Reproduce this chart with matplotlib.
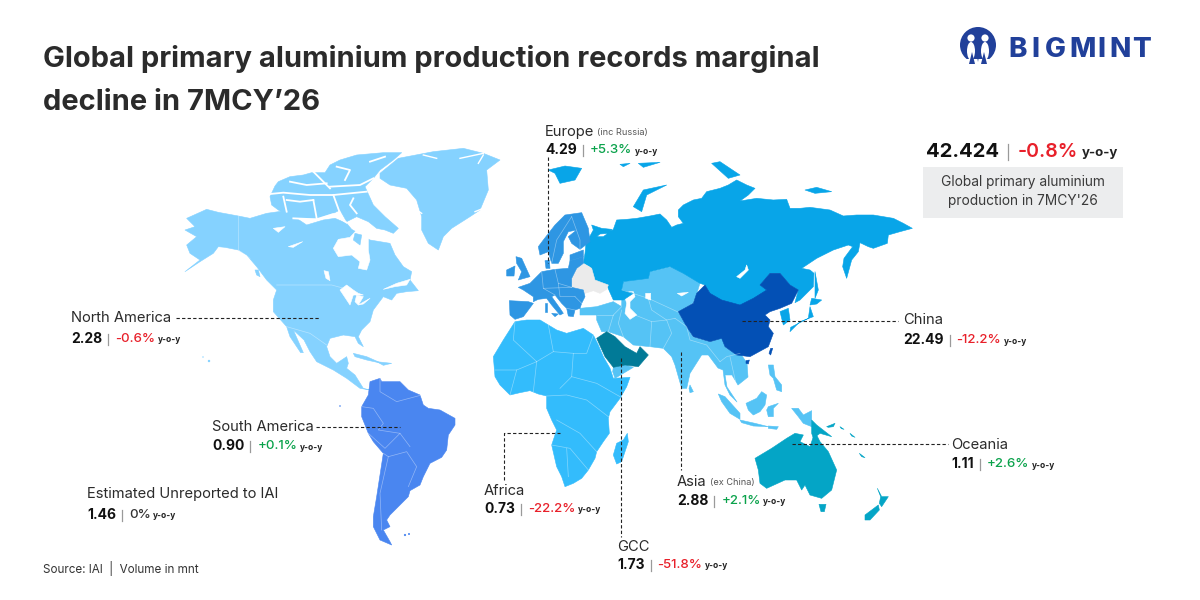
import matplotlib
matplotlib.use("Agg")
import matplotlib.pyplot as plt
from matplotlib.patches import Polygon, Circle, Rectangle, Ellipse

plt.rcParams['font.family'] = ['Inter', 'DejaVu Sans']

# values printed on the chart
regions = ["North America", "South America", "Estimated Unreported to IAI", "Africa", "GCC",
           "Asia", "Oceania", "China", "Europe"]
region_notes = ["", "", "", "", "", "(ex China)", "", "", "(inc Russia)"]
volumes = ["2.28", "0.90", "1.46", "0.73", "1.73", "2.88", "1.11", "22.49", "4.29"]
changes = ["-0.6%", "+0.1%", "0%", "-22.2%", "-51.8%", "+2.1%", "+2.6%", "-12.2%", "+5.3%"]
label_x = [71, 212, 87, 484, 617, 677, 951, 903, 545]
label_y = [318, 427, 494, 491, 547, 482, 445, 320, 132]
stat_y = [339, 446, 515, 509, 565, 501, 464, 340, 150]
world_total = "42.424"
world_change = "-0.8%"

NA_COL = '#85d2ff'
SA_COL = '#4a86f0'
AF_COL = '#33bcfc'
AS_COL = '#55c3f5'
CN_COL = '#0350b5'
RU_COL = '#08a5e8'
EU_COL = '#2e96e3'
GCC_COL = '#017a97'
OC_COL = '#04a5c6'
GREY = '#ebebeb'

CROP_NA = (150, 130)
CROP_ARC = (270, 150)
CROP_EA = (480, 130)
CROP_AF = (340, 320)
CROP_SE = (640, 320)
CROP_EU = (500, 200)
CROP_ME = (580, 290)

north_america = [
    (110,265),(170,238),(205,247),(265,258),(300,265),(350,250),(400,243),(440,265),(470,285),(520,270),
    (555,265),(590,280),(605,298),(660,330),(720,340),(735,375),(760,410),(785,425),(780,450),(805,482),
    (770,485),(740,490),(725,510),(700,500),(670,540),(660,575),(635,600),(625,620),(640,650),(625,640),(615,620),
    (580,615),(540,625),(530,650),(540,680),(560,700),(590,680),(595,700),(590,715),(615,735),(640,775),
    (660,780),(630,775),(590,745),(550,720),(500,695),(480,665),(462,630),(430,600),(460,668),(452,668),(420,620),
    (410,590),(370,545),(370,510),(380,480),(350,450),(320,410),(290,375),(265,360),(225,352),(205,350),(190,370),
    (150,395),(105,425),(150,390),(120,370),(110,345),(140,320),(105,300),(135,290)]
greenland = [
    (690,130),(745,85),(850,65),(940,55),(1000,70),(1050,90),(1010,120),(1015,180),(990,240),(960,260),
    (905,295),(880,320),(865,360),(835,340),(815,300),(815,260),(800,210),(770,175),(720,165),(690,145)]
greenland_fjords = [[(930,85),(1000,70)], [(985,100),(1000,75)], [(975,245),(1000,235)], [(800,240),(815,250)],
                    [(820,75),(860,85)]]
na_water = [
    [(570,480),(590,465),(610,480),(625,490),(640,495),(610,495),(600,525),(590,510)],
    [(620,495),(640,500),(625,525),(615,515)],
    [(625,525),(660,505),(640,522)],
    [(522,422),(535,425),(540,452),(528,445)],
    [(370,295),(405,290),(385,307)],
    [(415,350),(458,335),(430,352)],
    [(700,478),(740,460),(780,448),(770,465),(735,470)]]
hudson_bay = [
    (190,295),(205,268),(240,262),(262,238),(290,215),(320,235),(345,245),(385,240),(375,255),(345,262),(320,262),
    (295,265),(295,300),(300,330),(290,360),(265,355),(270,335),(245,315),(205,320)]
arctic_block = [
    (0,140),(15,108),(25,95),(60,80),(100,75),(125,68),(165,68),(180,45),(210,30),(260,15),(340,8),(395,8),(370,30),
    (330,60),(310,85),(285,110),(310,165),(345,200),(385,235),(370,250),(345,240),(320,235),(295,215),(260,200),(230,215),
    (210,180),(190,190),(140,205),(70,205),(25,180),(5,165)]
arctic_channels = [
    [(0,132),(40,128),(120,135),(190,135),(290,125)],
    [(40,140),(50,185)], [(130,150),(140,205)], [(190,135),(210,190)],
    [(180,110),(270,105),(310,85)], [(130,65),(170,105),(180,115)], [(60,95),(110,105),(170,100)],
    [(200,50),(240,60),(225,90)], [(250,145),(240,165),(260,190)], [(70,205),(140,208),(190,192),(230,218)],
    [(50,150),(90,155),(130,150)], [(300,35),(345,20)]]
southampton = [(255,250),(275,255),(270,285),(250,270)]
caribbean = [
    [(610,670),(650,680),(695,700),(650,690),(615,680)],
    [(680,695),(725,700),(700,706)],
    [(315,420),(325,420),(330,440),(320,435)]]

south_america = [
    (90,185),(120,175),(125,185),(180,185),(205,210),(240,225),(250,255),(265,265),(300,270),(345,295),(345,315),
    (325,345),(320,390),(305,412),(270,430),(250,470),(240,495),(210,512),(205,530),(170,565),(150,585),(140,600),
    (150,620),(130,630),(150,665),(155,675),(120,660),(100,620),(100,590),(110,530),(130,400),(100,365),(85,340),
    (65,290),(65,260),(85,225)]
africa = [
    (525,5),(560,0),(600,0),(625,15),(650,30),(680,40),(730,25),(760,45),(775,75),(790,110),(810,145),(820,175),
    (870,172),(860,200),(840,235),(810,275),(805,295),(808,340),(790,365),(770,395),(765,415),(745,450),(725,475),
    (700,490),(675,500),(665,470),(650,440),(635,375),(650,330),(635,300),(620,265),(620,228),(595,222),(570,212),
    (540,218),(510,225),(480,195),(465,170),(460,110),(490,60)]
madagascar = [(862,340),(865,365),(845,425),(830,432),(820,405),(830,370),(850,360)]
gcc = [(50,145),(80,125),(105,140),(135,170),(170,190),(180,170),(205,195),(175,230),(135,225),(100,232),(75,200)]
yemen = [(100,232),(135,225),(160,232),(105,265),(98,245)]

russia = [
    (315,370),(318,340),(340,300),(335,285),(365,295),(395,298),(388,310),(360,312),(350,320),(370,320),(400,298),(410,270),
    (440,268),(470,265),(510,258),(540,252),(560,270),(575,292),(590,285),(610,280),(595,260),(595,240),(610,225),
    (640,210),(665,205),(680,185),(720,175),(745,165),(770,150),(800,165),(825,175),(805,195),(780,213),(830,205),
    (880,210),(920,208),(930,235),(960,235),(990,232),(1050,240),(1090,258),(1130,255),(1180,255),(1240,265),(1270,280),
    (1297,295),(1260,305),(1225,315),(1222,340),(1180,355),(1165,350),(1140,338),(1135,365),(1115,390),(1100,445),
    (1088,410),(1092,385),(1118,350),(1105,345),(1060,360),(1010,385),(965,415),(990,420),(1002,430),(1000,470),
    (960,510),(945,518),(955,480),(930,465),(900,430),(870,430),(840,465),(860,480),(820,505),(780,525),(725,510),
    (690,490),(675,465),(660,460),(610,430),(570,410),(510,425),(505,445),(430,455),(425,480),(460,490),(430,510),
    (400,510),(380,465),(340,455),(330,410),(310,400)]
mongolia = [(680,465),(740,440),(790,450),(820,460),(860,480),(820,505),(780,525),(725,510),(690,490)]
china = [
    (675,465),(690,490),(725,510),(780,525),(820,505),(860,480),(840,465),(870,430),(900,430),(930,465),(955,480),
    (935,520),(900,535),(870,545),(855,555),(870,570),(865,590),(880,610),(865,650),(810,680),(770,675),(735,650),
    (725,625),(690,635),(640,620),(620,590),(595,545),(640,520),(650,490)]
russia_islands = [
    [(205,120),(255,108),(305,115),(285,150),(240,160),(225,130)],
    [(420,103),(450,100),(430,110)],
    [(475,100),(540,97),(490,112)],
    [(460,230),(490,180),(560,165),(500,195),(485,245)],
    [(695,100),(720,95),(780,135),(745,145)],
    [(975,180),(1010,172),(1055,185),(1005,190)],
    [(1005,425),(1015,480),(1005,505),(1005,470)],
    [(995,505),(1025,510),(1010,522),(990,525)],
    [(990,530),(1000,560),(960,575),(930,605),(932,592),(985,565)],
    [(900,545),(925,535),(930,570),(910,585)]]
baikal = [(800,405),(805,420),(780,445),(770,440),(795,420)]
ukraine = [
    (250,190),(275,205),(285,240),(325,255),(320,268),(300,280),(280,272),(255,280),(250,270),(215,262),(215,235),(230,205)]
europe = [
    [(55,262),(90,250),(105,235),(125,215),(165,208),(205,205),(210,182),(225,178),(250,170),(250,190),(230,205),(215,235),
     (215,262),(250,270),(255,290),(245,310),(240,325),(225,330),(220,350),(205,348),(200,325),(185,310),(165,285),(155,290),
     (180,325),(190,340),(180,345),(155,315),(140,295),(115,298),(100,305),(100,290),(70,270)],
    [(28,302),(85,305),(100,310),(85,330),(70,350),(45,358),(30,345)],
    [(115,140),(130,120),(165,75),(195,45),(245,38),(265,85),(270,125),(240,148),(215,130),(205,110),(230,90),(205,95),
     (190,125),(190,160),(175,190),(155,190),(145,155),(120,165)],
    [(135,182),(148,180),(150,205),(138,205)],
    [(210,182),(210,165),(250,150),(250,170),(225,178)],
    [(48,170),(65,175),(90,230),(55,240),(65,215),(50,190)],
    [(20,210),(45,198),(42,228),(20,228)],
    [(135,310),(142,310),(142,335),(135,335)],
    [(155,340),(175,342),(165,350)]]
asia = [
    (0,55),(50,50),(100,35),(125,50),(126,0),(129,-24),(204,-36),(210,-54),(270,-69),(309,-51),(360,-21),(351,9),(339,39),
    (294,66),(321,111),(339,141),(390,156),(426,144),(435,171),(471,195),(480,189),(501,219),(504,261),(474,285),(456,255),
    (435,255),(441,291),(471,336),(450,315),(435,285),(429,240),(414,234),(385,195),(365,195),(330,250),(320,295),(305,295),
    (285,225),(275,200),(250,175),(210,170),(160,165),(130,140),(85,125),(65,125),(50,90),(50,75),(0,75)]
asia_water = [
    [(130,5),(160,5),(165,20),(150,35),(150,55),(170,75),(150,88),(135,70),(140,40)],
    [(197,10),(212,10),(212,30),(197,25)],
    [(292,10),(325,7),(305,18)]]
se_asia_islands = [
    [(235,222),(255,230),(300,280),(300,298),(270,280),(245,245)],
    [(300,300),(345,310),(385,320),(340,318),(305,308)],
    [(385,318),(415,320),(410,328),(385,325)],
    [(318,250),(350,235),(365,215),(380,225),(375,255),(360,275),(340,285),(325,270)],
    [(385,260),(415,250),(400,265),(400,290),(385,290),(380,270)],
    [(385,135),(400,135),(405,170),(425,195),(425,215),(410,210),(400,175),(390,165)],
    [(455,265),(475,265),(490,285),(515,272),(515,320),(490,310),(475,290)],
    [(150,195),(160,215),(150,218),(147,205)]]
china_islands = [[(392,85),(398,85),(392,105),(387,100)], [(318,122),(328,120),(325,132),(318,130)]]
oceania = [
    [(345,415),(395,385),(410,375),(440,355),(465,340),(490,345),(480,365),(510,380),(525,335),(540,365),(565,395),
     (590,450),(575,510),(545,535),(510,525),(495,495),(485,510),(470,480),(435,480),(380,505),(360,490),(355,450)],
    [(537,553),(558,553),(553,575),(543,575)],
    [(712,505),(725,530),(745,530),(725,560),(718,550),(722,530)],
    [(715,555),(718,570),(690,600),(675,600),(675,585)],
    [(515,300),(530,315),(575,350),(540,340),(520,355),(515,340)],
    [(560,320),(585,310),(580,320),(565,322)],
    [(600,320),(612,328),(604,326)],
    [(630,340),(645,352),(635,348)],
    [(658,400),(675,413),(665,410)]]
small_dots = [(209, 361, 1.2, NA_COL), (203, 357, 0.7, NA_COL), (340, 406, 0.8, SA_COL), (405, 535, 1.1, SA_COL),
              (409, 534, 1.0, SA_COL)]

# a few of the country borders, thin lines on the land
borders_af = [
    [(525,5),(520,60),(590,125),(640,95),(625,15)], [(640,95),(700,100),(740,100),(760,45)],
    [(465,150),(530,150),(590,125)], [(530,150),(510,225)], [(590,125),(580,215)],
    [(700,100),(695,170),(660,205)], [(695,170),(770,190),(840,230)], [(620,228),(680,225),(740,240),(805,290)],
    [(650,300),(720,340),(770,395)], [(635,375),(690,385),(745,450)], [(680,385),(685,470)]]
borders_sa = [
    [(120,175),(120,215),(170,245),(245,225)], [(65,260),(100,265),(130,310),(115,330),(180,340),(210,380)],
    [(85,340),(135,385),(180,340)], [(130,400),(145,410),(200,395),(230,440),(205,500)],
    [(145,410),(120,520),(125,630)]]
borders_na = [[(265,258),(265,360),(300,385)], [(380,465),(545,465),(600,480)], [(410,590),(480,610),(530,645)]]
borders_eu = [
    [(125,215),(130,265),(165,285)], [(165,208),(175,250),(215,262)], [(130,265),(215,262)], [(175,250),(180,290),(225,290)],
    [(215,50),(170,120),(155,190)], [(215,50),(240,120),(240,148)], [(225,290),(245,310)], [(200,325),(225,330)]]
borders_me = [
    [(125,50),(100,75),(85,125)], [(50,75),(100,75)], [(125,60),(115,100),(130,140)], [(165,75),(215,95),(210,170)],
    [(205,25),(215,60),(260,90),(285,85)], [(215,95),(260,90),(275,130),(250,175)], [(285,85),(320,110),(330,150),(380,165),(420,215)],
    [(420,215),(440,200),(480,190)], [(450,200),(470,290)], [(126,0),(205,25),(294,66)]]
border_crops = [(borders_af, CROP_AF), (borders_sa, CROP_AF), (borders_na, CROP_NA), (borders_eu, CROP_EU), (borders_me, CROP_ME)]


def from_crop(points, crop):
    return [(crop[0] + px / 3, crop[1] + py / 3) for px, py in points]


def land(ax, shape, crop, color):
    ax.add_patch(Polygon(from_crop(shape, crop), closed=True, facecolor=color, edgecolor=color,
                         linewidth=0.4, joinstyle='round'))


def draw_stat(fig, ax, x, y, volume, change, fs=10, unit_fs=None, pct_weight='medium'):
    rend = fig.canvas.get_renderer()
    unit_fs = unit_fs or fs * 0.6
    t = ax.text(x, y, volume, fontsize=fs, fontweight='bold', color='#111111', va='center', ha='left')
    end = t.get_window_extent(rend).x1
    ax.plot([end + fs * 0.6] * 2, [y - fs * 0.55, y + fs * 0.55], color='#9a9a9a', lw=0.9)
    if change.startswith('-'):
        col = '#e8202a'
    elif change.startswith('+'):
        col = '#0aa24b'
    else:
        col = '#333333'
    t = ax.text(end + fs * 1.3, y, change, fontsize=fs * 0.96, fontweight=pct_weight, color=col, va='center', ha='left')
    end = t.get_window_extent(rend).x1
    ax.text(end + fs * 0.25, y + fs * 0.1, "y-o-y", fontsize=unit_fs, fontweight='bold', color='#222222',
            va='center', ha='left')


fig = plt.figure(figsize=(12, 6), dpi=100)
ax = fig.add_axes([0, 0, 1, 1])
ax.set_xlim(0, 1200)
ax.set_ylim(600, 0)
ax.axis('off')

# land
land(ax, north_america, CROP_NA, NA_COL)
land(ax, greenland, CROP_NA, NA_COL)
for s in na_water:
    land(ax, s, CROP_NA, 'white')
land(ax, hudson_bay, CROP_ARC, 'white')
land(ax, arctic_block, CROP_ARC, NA_COL)
land(ax, southampton, CROP_ARC, NA_COL)
for ln in arctic_channels:
    pts = from_crop(ln, CROP_ARC)
    ax.plot([p[0] for p in pts], [p[1] for p in pts], color='white', lw=1.3)
for s in caribbean:
    land(ax, s, CROP_NA, NA_COL)
for ln in greenland_fjords:
    pts = from_crop(ln, CROP_NA)
    ax.plot([p[0] for p in pts], [p[1] for p in pts], color='white', lw=1.0)
land(ax, south_america, CROP_AF, SA_COL)
land(ax, africa, CROP_AF, AF_COL)
land(ax, madagascar, CROP_AF, AF_COL)
land(ax, asia, CROP_ME, AS_COL)
for s in asia_water:
    land(ax, s, CROP_ME, 'white')
land(ax, yemen, CROP_ME, AS_COL)
land(ax, gcc, CROP_ME, GCC_COL)
land(ax, russia, CROP_EA, RU_COL)
land(ax, baikal, CROP_EA, 'white')
for s in russia_islands:
    land(ax, s, CROP_EA, RU_COL)
land(ax, mongolia, CROP_EA, RU_COL)
land(ax, china, CROP_EA, CN_COL)
land(ax, ukraine, CROP_EU, GREY)
for s in europe:
    land(ax, s, CROP_EU, EU_COL)
for s in se_asia_islands:
    land(ax, s, CROP_SE, AS_COL)
for s in china_islands:
    land(ax, s, CROP_SE, CN_COL)
for s in oceania:
    land(ax, s, CROP_SE, OC_COL)
for dx, dy, dr, dc in small_dots:
    ax.add_patch(Circle((dx, dy), dr, color=dc, lw=0))

for lines, crop in border_crops:
    for ln in lines:
        pts = from_crop(ln, crop)
        ax.plot([p[0] for p in pts], [p[1] for p in pts], color='white', lw=0.5, alpha=0.4)

# leader lines
leaders = [
    [(176, 318), (319, 318)], [(742, 321), (898, 321)], [(548, 157), (548, 263)], [(316, 427), (400, 427)],
    [(504, 480), (504, 433), (560, 433)], [(621, 358), (621, 537)], [(681, 352), (681, 470)], [(792, 444), (948, 444)]]
for ln in leaders:
    ax.plot([p[0] for p in ln], [p[1] for p in ln], color='#222222', lw=0.8, dashes=(3, 2))

# title
ax.text(43, 59, "Global primary aluminium production records marginal", fontsize=20.95, fontweight='bold',
        color='#2b2b2b', va='center', ha='left')
ax.text(43, 103, "decline in 7MCY\u201926", fontsize=20.95, fontweight='bold', color='#2b2b2b', va='center', ha='left')

# logo
LOGO = '#21409a'
ax.add_patch(Circle((978, 45), 18, color=LOGO, lw=0))
ax.add_patch(Rectangle((960, 59), 36, 8, color='white', lw=0))
for hx in (971, 985):
    ax.add_patch(Circle((hx, 38), 3.6, color='white', lw=0))
    ax.add_patch(Ellipse((hx, 51), 8, 18, color='white', lw=0))
ax.add_patch(Polygon([(969, 64), (972, 52), (975, 64)], color=LOGO, lw=0))
ax.add_patch(Polygon([(981, 64), (984, 52), (987, 64)], color=LOGO, lw=0))
ax.add_patch(Polygon([(975, 44), (978, 62), (981, 44)], color=LOGO, lw=0))
logo_x = [1008, 1031, 1045, 1069, 1097, 1109, 1132]
for ch, lx in zip("BIGMINT", logo_x):
    ax.text(lx, 50, ch, fontsize=20, fontweight='heavy', color=LOGO, va='center', ha='left')

# global total
draw_stat(fig, ax, 926, 152, world_total, world_change, fs=14.6, unit_fs=9.5, pct_weight='semibold')
ax.add_patch(Rectangle((923, 167), 200, 51, color='#ecedee', lw=0))
ax.text(1023, 182, "Global primary aluminium", fontsize=9.9, color='#3a3a3a', ha='center', va='center')
ax.text(1023, 201, "production in 7MCY'26", fontsize=9.9, color='#3a3a3a', ha='center', va='center')

# region labels
fig.canvas.draw()
rend = fig.canvas.get_renderer()
for i in range(len(regions)):
    t = ax.text(label_x[i], label_y[i], regions[i], fontsize=10.6, color='#2b2b2b', va='center', ha='left')
    if region_notes[i]:
        end = t.get_window_extent(rend).x1
        ax.text(end + 3, label_y[i] + 1, region_notes[i], fontsize=6.6, color='#555555', va='center', ha='left')
    draw_stat(fig, ax, label_x[i], stat_y[i], volumes[i], changes[i])

ax.text(43, 569, "Source: IAI  |  Volume in mnt", fontsize=8.4, color='#333333', va='center', ha='left')

fig.savefig("out.png", dpi=100, facecolor='white')
